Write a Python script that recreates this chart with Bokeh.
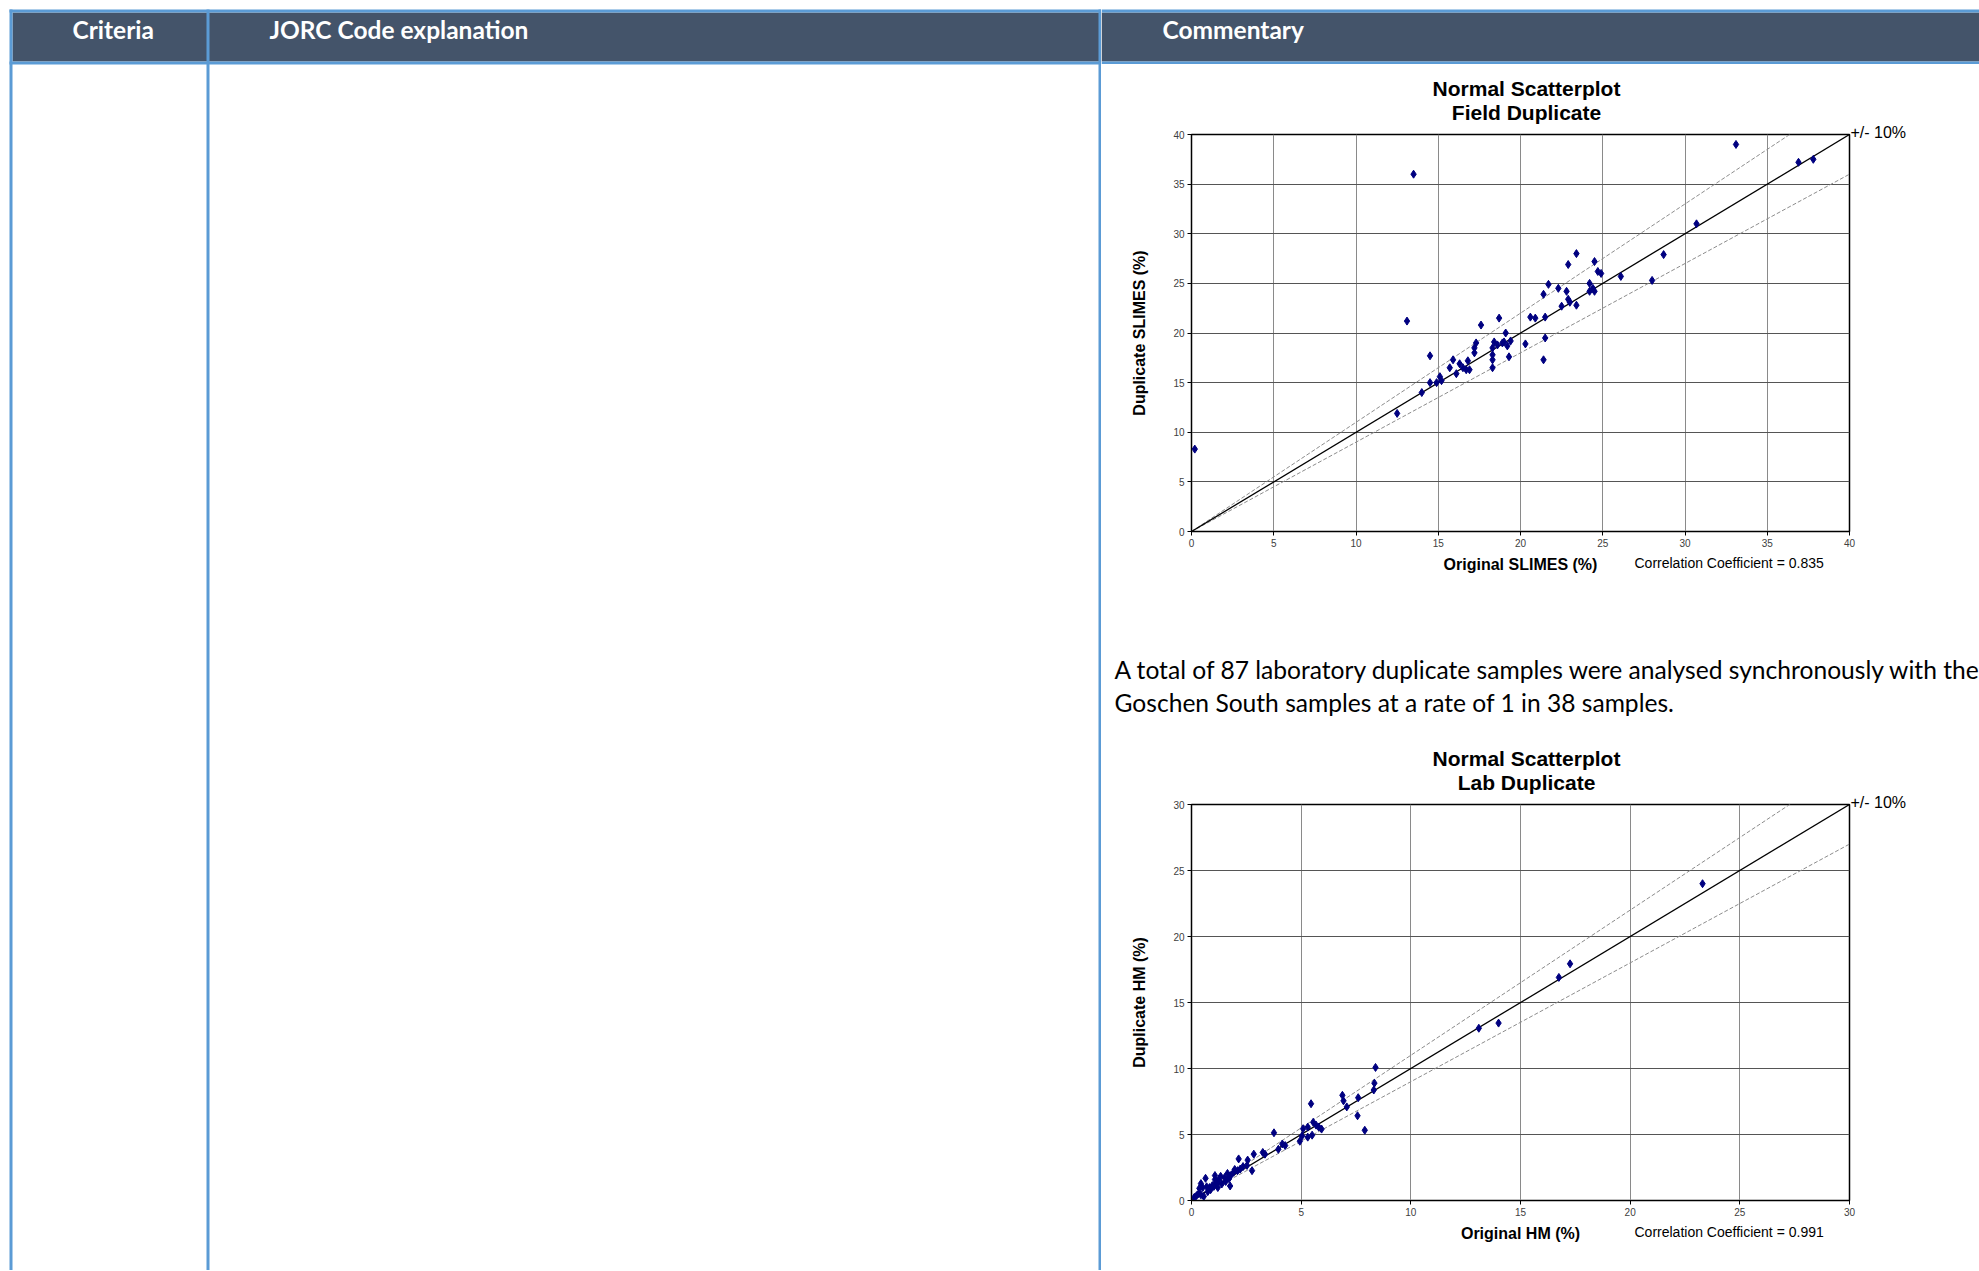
import numpy as np
from bokeh.plotting import figure
from bokeh.layouts import row, column
from bokeh.models import Range1d, Label, SingleIntervalTicker
from bokeh.core.properties import value
from bokeh.embed import file_html
from bokeh.resources import INLINE

# ---------------- data ----------------
headers = ["Criteria", "JORC Code explanation", "Commentary"]

field_title = ["Normal Scatterplot", "Field Duplicate"]
field_xlabel = "Original SLIMES (%)"
field_ylabel = "Duplicate SLIMES (%)"
field_corr = 0.835
field_max = 40
field_x = [0.2, 13.5, 13.1, 12.5, 14.0, 14.5, 14.5, 14.9, 15.1, 15.2, 15.7, 15.9, 16.1, 16.3,
           16.5, 16.7, 16.8, 16.9, 17.2, 17.2, 17.3, 17.6, 18.3, 18.3, 18.3, 18.3, 18.4, 18.6,
           18.7, 18.9, 19.0, 19.1, 19.2, 19.3, 19.4, 20.3, 20.6, 20.9, 21.4, 21.4, 21.5, 21.5,
           21.7, 22.3, 22.5, 22.8, 22.9, 22.9, 23.0, 23.4, 23.4, 24.2, 24.2, 24.4, 24.5, 24.5,
           24.7, 24.9, 26.1, 28.0, 28.7, 30.7, 33.1, 36.9, 37.8]
field_y = [8.3, 36.0, 21.2, 11.9, 14.0, 17.7, 15.0, 15.0, 15.6, 15.2, 16.5, 17.3, 15.9, 16.9,
           16.5, 16.3, 17.2, 16.3, 18.0, 18.5, 19.0, 20.8, 16.5, 17.3, 17.8, 18.5, 19.1, 18.8,
           21.5, 19.0, 19.1, 20.0, 18.7, 17.6, 19.2, 18.9, 21.6, 21.5, 23.9, 17.3, 21.6, 19.5,
           24.9, 24.5, 22.7, 24.2, 26.9, 23.4, 23.1, 28.0, 22.8, 25.0, 24.2, 24.5, 24.2, 27.2,
           26.2, 26.0, 25.7, 25.3, 27.9, 31.0, 39.0, 37.2, 37.5]

body_text = ["A total of 87 laboratory duplicate samples were analysed synchronously with the",
             "Goschen South samples at a rate of 1 in 38 samples."]

lab_title = ["Normal Scatterplot", "Lab Duplicate"]
lab_xlabel = "Original HM (%)"
lab_ylabel = "Duplicate HM (%)"
lab_corr = 0.991
lab_max = 30
lab_x = [23.3, 17.26, 16.75, 13.1, 14.0, 8.39, 8.34, 8.31, 6.88, 6.93, 7.6, 7.08, 7.57, 7.9,
         5.45, 3.76, 5.09, 5.3, 5.55, 5.68, 5.8, 5.93, 5.5, 5.3, 5.04, 4.94, 4.14, 4.27, 3.96,
         3.25, 3.35, 2.84, 2.76, 2.56, 2.53, 2.35, 2.15, 2.22, 2.1, 1.92, 1.79, 1.71, 1.76,
         1.51, 1.33, 1.25, 1.13, 1.07, 0.95, 0.82, 0.64, 0.51, 0.43, 0.36, 0.33, 0.23, 0.56,
         0.74, 0.87, 1.02, 1.2, 1.38, 1.56, 1.15, 0.43, 0.13, 0.69, 1.97, 1.07, 1.64]
lab_y = [24.0, 17.93, 16.9, 13.05, 13.44, 10.08, 8.89, 8.37, 7.97, 7.55, 7.79, 7.09, 6.42, 5.32,
         7.33, 5.13, 5.44, 5.56, 5.93, 5.71, 5.56, 5.41, 4.95, 4.8, 4.89, 4.49, 4.28, 4.16, 3.88,
         3.64, 3.51, 3.51, 2.26, 3.06, 2.66, 2.57, 3.15, 2.38, 2.26, 2.14, 1.89, 1.65, 1.1,
         1.74, 1.83, 1.59, 1.34, 1.59, 1.13, 0.98, 1.68, 0.98, 1.28, 0.92, 0.52, 0.37, 0.31,
         0.67, 0.82, 1.07, 0.98, 1.25, 1.44, 1.4, 0.43, 0.24, 1.04, 2.35, 1.89, 2.05]

band_label = "+/- 10%"
band = 0.10

# ---------------- styles ----------------
BLUE = "#5B9BD5"
HEAD = "#44546A"
NAVY = "#000080"
ARIAL = "Liberation Sans"
BODY = "Lato"
PAGE_W, PAGE_H = 1979, 1270
SPLIT = 1101          # x where the commentary column starts


def blank(w, h, xr, yr):
    p = figure(width=w, height=h, x_range=Range1d(*xr), y_range=Range1d(*yr),
               x_axis_type=None, y_axis_type=None, toolbar_location=None,
               output_backend="svg", min_border=0, outline_line_color=None,
               background_fill_color="white", border_fill_color="white")
    p.frame_align = False
    return p


# Left part of the table: columns "Criteria" and "JORC Code explanation"
L = blank(SPLIT, PAGE_H, (0, SPLIT), (PAGE_H, 0))
L.quad(left=[12], right=[SPLIT], top=[12], bottom=[61], color=HEAD, line_color=None)
L.quad(left=[9, 9], right=[SPLIT, SPLIT], top=[9, 61], bottom=[12, 64], color=BLUE, line_color=None)
L.quad(left=[9, 206, 1098], right=[12, 209, 1101], top=[9, 9, 9], bottom=[PAGE_H] * 3,
       color=BLUE, line_color=None)
L.text(x=[72, 269], y=[29, 29], text=headers[:2], text_color="white",
       text_font=value(BODY), text_font_style="bold", text_font_size="24.5px",
       text_baseline="middle", text_align="left")

RW = PAGE_W - SPLIT
# Right column header
H = blank(RW, 64, (SPLIT, PAGE_W), (64, 0))
H.quad(left=[SPLIT], right=[PAGE_W], top=[12], bottom=[61], color=HEAD, line_color=None)
H.quad(left=[SPLIT, SPLIT], right=[PAGE_W, PAGE_W], top=[9, 61], bottom=[12, 64], color=BLUE,
       line_color=None)
H.text(x=[1162], y=[29], text=headers[2:], text_color="white",
       text_font=value(BODY), text_font_style="bold", text_font_size="24.5px",
       text_baseline="middle", text_align="left")


def scatter_chart(xs, ys, vmax, titles, xlabel, ylabel, corr, height, top, bottom):
    p = figure(width=RW, height=height, x_range=Range1d(0, vmax), y_range=Range1d(0, vmax),
               toolbar_location=None, output_backend="svg",
               min_border_left=90, min_border_right=130, min_border_top=top, min_border_bottom=bottom,
               background_fill_color="white", border_fill_color="white",
               outline_line_color="black", outline_line_width=1.5)
    p.frame_align = False
    for ax in (p.xaxis[0], p.yaxis[0]):
        ax.ticker = SingleIntervalTicker(interval=5)
        ax.minor_tick_line_color = None
        ax.major_tick_in = 0
        ax.major_tick_out = 4
        ax.major_tick_line_color = "black"
        ax.axis_line_color = "black"
        ax.major_label_text_font = ARIAL
        ax.major_label_text_font_size = "10px"
        ax.major_label_text_color = "#404040"
        ax.major_label_standoff = 3
        ax.axis_label_text_font = ARIAL
        ax.axis_label_text_font_style = "bold"
        ax.axis_label_text_font_size = "16px"
        ax.axis_label_text_color = "black"
    p.xaxis.axis_label = xlabel
    p.xaxis.axis_label_standoff = 6
    p.yaxis.axis_label = ylabel
    p.yaxis.axis_label_standoff = 22
    p.xgrid.grid_line_color = "#8a8a8a"
    p.ygrid.grid_line_color = "#555555"

    ref = np.array([0.0, float(vmax)])
    p.line(ref, ref * (1 + band), color="#8c8c8c", line_width=1, line_dash="4 2")
    p.line(ref, ref * (1 - band), color="#8c8c8c", line_width=1, line_dash="4 2")
    p.line(ref, ref, color="black", line_width=1.3)
    p.scatter(xs, ys, marker="diamond", size=8, color=NAVY)

    mid = vmax / 2
    p.add_layout(Label(x=mid, y=vmax, x_offset=6, y_offset=22, text=titles[1], text_align="center",
                       text_baseline="middle", text_font=ARIAL, text_font_style="bold",
                       text_font_size="21px", text_color="black"), "above")
    p.add_layout(Label(x=mid, y=vmax, x_offset=6, y_offset=46, text=titles[0], text_align="center",
                       text_baseline="middle", text_font=ARIAL, text_font_style="bold",
                       text_font_size="21px", text_color="black"), "above")
    p.add_layout(Label(x=vmax, y=vmax, x_offset=1, y_offset=2, text=band_label, text_align="left",
                       text_baseline="middle", text_font=ARIAL, text_font_size="16px",
                       text_color="black"), "right")
    p.add_layout(Label(x=vmax, y=0, x_offset=-215, y_offset=-31,
                       text="Correlation Coefficient = %.3f" % corr, text_align="left",
                       text_baseline="middle", text_font=ARIAL, text_font_size="14px",
                       text_color="black"), "below")
    return p


C1 = scatter_chart(field_x, field_y, field_max, field_title, field_xlabel, field_ylabel, field_corr,
                   536, 70, 69)

T = blank(RW, 140, (SPLIT, PAGE_W), (740, 600))
T.text(x=[1114, 1114], y=[669, 702], text=body_text, text_color="black",
       text_font=value(BODY), text_font_size="24.6px", text_baseline="middle", text_align="left")

C2 = scatter_chart(lab_x, lab_y, lab_max, lab_title, lab_xlabel, lab_ylabel, lab_corr,
                   PAGE_H - 740, 64, PAGE_H - 740 - 64 - 396)

right = column(H, C1, T, C2, spacing=0)
page = row(L, right, spacing=0)

open("out.html", "w").write(file_html(page, INLINE))
